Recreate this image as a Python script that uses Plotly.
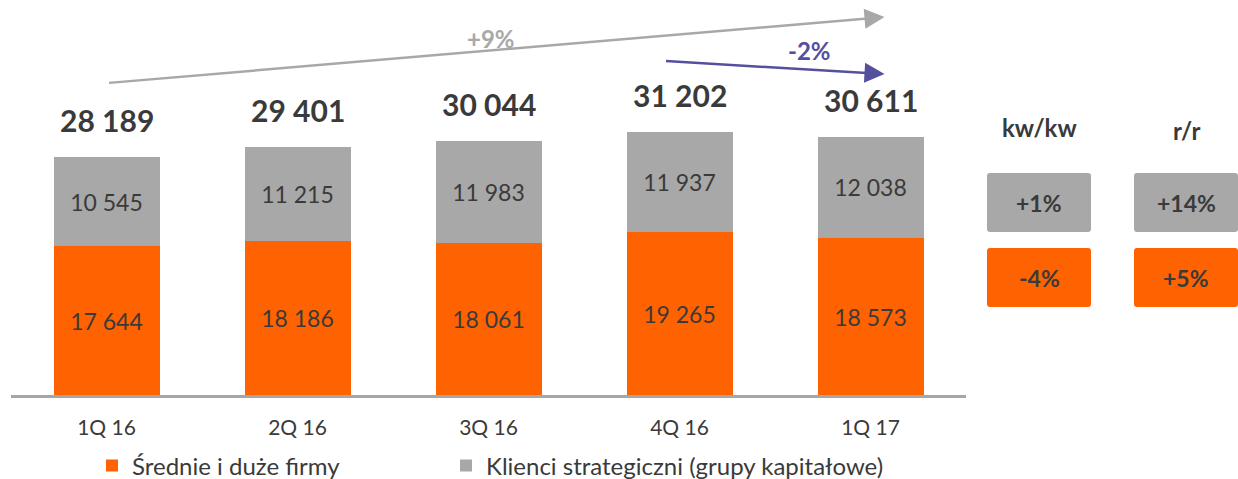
import plotly.graph_objects as go

categories = ["1Q 16", "2Q 16", "3Q 16", "4Q 16", "1Q 17"]
srednie = [17644, 18186, 18061, 19265, 18573]
strategiczni = [10545, 11215, 11983, 11937, 12038]
totals = [28189, 29401, 30044, 31202, 30611]
total_labels = ["28 189", "29 401", "30 044", "31 202", "30 611"]
kwkw = ["+1%", "-4%"]
rr = ["+14%", "+5%"]
growth_all = "+9%"
growth_q = "-2%"

ORANGE = "#FF6200"
GRAY = "#A8A8A8"
TXT = "#3A3A3A"
PURPLE = "#55509E"
FONT = "Lato"

W, H = 1238, 479
BASE = 395              # y of the zero line
ML = 11
MR = W - 966
MT = 0
PH = BASE
MB = H - PH
PW = W - ML - MR
SCALE = 238 / 28189     # px per unit
YMAX = PH / SCALE

def xd(px):  # pixel -> category coordinate
    return (px - 107) / 191

def yd(py):  # pixel -> data y
    return (BASE - py) / SCALE

def xp(px):
    return (px - ML) / PW

def yp(py):
    return (BASE - py) / PH

fig = go.Figure()
fig.add_trace(go.Bar(
    x=categories, y=srednie, name="Średnie i duże firmy", legend="legend",
    marker=dict(color=ORANGE, line=dict(width=0)),
    texttemplate="%{y:,}", textposition="inside", insidetextanchor="middle",
    textangle=0, insidetextfont=dict(size=23, color=TXT, family=FONT),
))
fig.add_trace(go.Bar(
    x=categories, y=strategiczni, name="Klienci strategiczni (grupy kapitałowe)", legend="legend2",
    marker=dict(color=GRAY, line=dict(width=0)),
    texttemplate="%{y:,}", textposition="inside", insidetextanchor="middle",
    textangle=0, insidetextfont=dict(size=23, color=TXT, family=FONT),
))

annotations = []
for c, t, lab in zip(categories, totals, total_labels):
    annotations.append(dict(x=c, y=t + 17 / SCALE, text=f"<b>{lab}</b>", showarrow=False,
                            xanchor="center", yanchor="bottom",
                            font=dict(size=30, color=TXT, family=FONT)))

# growth arrows
annotations.append(dict(x=xd(885), y=yd(17), ax=xd(108), ay=yd(83), axref="x", ayref="y",
                        xref="x", yref="y", text="", showarrow=True, arrowhead=2,
                        arrowwidth=2.5, arrowsize=1.6, arrowcolor=GRAY, standoff=0))
annotations.append(dict(x=xd(491), y=yd(38), text=f"<b>{growth_all}</b>", showarrow=False,
                        xanchor="center", yanchor="middle",
                        font=dict(size=24, color=GRAY, family=FONT)))
annotations.append(dict(x=xd(885), y=yd(74), ax=xd(665), ay=yd(61), axref="x", ayref="y",
                        xref="x", yref="y", text="", showarrow=True, arrowhead=2,
                        arrowwidth=2.5, arrowsize=1.6, arrowcolor=PURPLE, standoff=0))
annotations.append(dict(x=xd(810), y=yd(50), text=f"<b>{growth_q}</b>", showarrow=False,
                        xanchor="center", yanchor="middle",
                        font=dict(size=24, color=PURPLE, family=FONT)))

# side headers and boxes
def rounded(x0, x1, ytop, ybot, r=3):
    a0, a1 = xp(x0), xp(x1)
    b0, b1 = yp(ybot), yp(ytop)
    rx, ry = r / PW, r / PH
    return (f"M{a0+rx},{b0} L{a1-rx},{b0} Q{a1},{b0} {a1},{b0+ry} L{a1},{b1-ry} "
            f"Q{a1},{b1} {a1-rx},{b1} L{a0+rx},{b1} Q{a0},{b1} {a0},{b1-ry} "
            f"L{a0},{b0+ry} Q{a0},{b0} {a0+rx},{b0} Z")

shapes = []
cols = [(987, 1091, 1039, "kw/kw", 127, kwkw), (1134, 1238, 1186, "r/r", 130, rr)]
rows = [(173, 232, GRAY), (248, 307, ORANGE)]
for x0, x1, xc, head, hy, vals in cols:
    annotations.append(dict(x=xp(xc), y=yp(hy), xref="paper", yref="paper", text=f"<b>{head}</b>",
                            showarrow=False, xanchor="center", yanchor="middle",
                            font=dict(size=24, color=TXT, family=FONT)))
    for (y0, y1, col), v in zip(rows, vals):
        shapes.append(dict(type="path", xref="paper", yref="paper", path=rounded(x0, x1, y0, y1),
                           fillcolor=col, line=dict(width=0), layer="below"))
        annotations.append(dict(x=xp(xc), y=yp((y0 + y1) / 2), xref="paper", yref="paper",
                                text=f"<b>{v}</b>", showarrow=False,
                                xanchor="center", yanchor="middle",
                                font=dict(size=23, color=TXT, family=FONT)))

legend_common = dict(orientation="h", xanchor="left", yanchor="middle", y=yp(466),
                     font=dict(size=24, color=TXT, family=FONT), itemwidth=30,
                     bgcolor="rgba(0,0,0,0)")

fig.update_layout(
    width=W, height=H, margin=dict(l=ML, r=MR, t=MT, b=MB, autoexpand=False),
    barmode="stack", bargap=0.445, separators=", ",
    plot_bgcolor="white", paper_bgcolor="white",
    font=dict(family=FONT, color=TXT, size=20),
    xaxis=dict(showline=True, linecolor="#A6A6A6", linewidth=3, ticks="", showgrid=False,
               automargin=False,
               tickfont=dict(size=21, color=TXT), range=[-0.5, 4.5], ticklabelstandoff=12),
    yaxis=dict(visible=False, range=[0, YMAX], showgrid=False, automargin=False),
    legend=dict(x=xp(92), **legend_common),
    legend2=dict(x=xp(446), **legend_common),
    annotations=annotations, shapes=shapes, showlegend=True,
)

fig.write_html(
    "out.html",
    config={"displayModeBar": False},
    post_script=("document.documentElement.style.margin='0px';"
                 "document.body.style.margin='0px';"),
)
